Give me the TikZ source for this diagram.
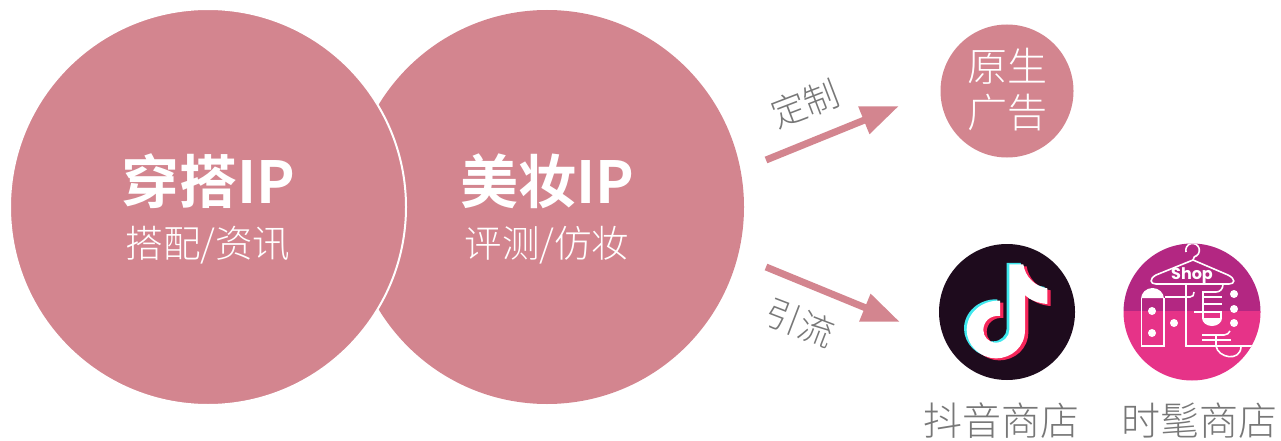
\documentclass[tikz,border=0pt]{standalone}
\usepackage{fontspec}
\usetikzlibrary{arrows.meta}
\setmainfont{Noto Sans CJK SC}
\newfontfamily\cjkbold{Noto Sans CJK SC Bold}
\newfontfamily\cjklight{Noto Sans CJK SC Light}
\newfontfamily\shopfont{Poppins}
\definecolor{rosepink}{HTML}{D3858F}
\definecolor{graytext}{HTML}{777777}
\definecolor{tiktokbg}{HTML}{1E0B1D}
\definecolor{tiktokcyan}{HTML}{3FE8EE}
\definecolor{tiktokred}{HTML}{F6265A}
\definecolor{shoptop}{HTML}{B32782}
\definecolor{shopbottom}{HTML}{E63388}
\newcommand{\notepath}{
  (268,103) -- (310,103) .. controls (315,140) and (345,170) .. (382,175) -- (382,222)
  .. controls (355,220) and (330,210) .. (315,195) -- (315,300)
  .. controls (315,350) and (275,385) .. (228,385)
  .. controls (180,385) and (140,345) .. (140,300)
  .. controls (140,250) and (185,210) .. (240,212) -- (240,258)
  .. controls (210,255) and (190,275) .. (190,300)
  .. controls (190,320) and (205,338) .. (228,338)
  .. controls (250,338) and (268,320) .. (268,300) -- cycle}
\tikzset{
  bigcircle/.style={circle,fill=rosepink,minimum size=394pt,inner sep=0pt},
  headtext/.style={text=white,font=\cjkbold\fontsize{58}{60}\selectfont,inner sep=0pt},
  subtext/.style={text=white,font=\cjklight\fontsize{37.5}{40}\selectfont,inner sep=0pt},
  greytext/.style={text=graytext,font=\cjklight\fontsize{39}{44}\selectfont,inner sep=0pt},
  edgelabel/.style={text=graytext,font=\cjklight\fontsize{35}{38}\selectfont,inner sep=0pt},
  flow/.style={draw=rosepink,line width=7pt,-{Triangle[length=38pt,width=28pt]}},
  shopline/.style={draw=white,line width=1.6pt,line cap=butt},
  shopdot/.style={fill=white}
}
\begin{document}
\begin{tikzpicture}[x=1pt,y=-1pt]
\useasboundingbox (0,0) rectangle (1281,441);
% Large circles
\node[bigcircle] (beauty) at (547,207) {};
\node[bigcircle,draw=white,line width=2pt,minimum size=396pt] (fashion) at (208,207) {};
\node[headtext] (fashionT) at (208,181) {穿搭IP};
\node[subtext] (fashionS) at (208,245) {搭配/资讯};
\node[headtext] (beautyT) at (547,181) {美妆IP};
\node[subtext] (beautyS) at (547,245) {评测/仿妆};
% Native ad circle
\node[circle,fill=rosepink,minimum size=133pt,inner sep=0pt] (native) at (1007,91) {};
\node[text=white,font=\cjklight\fontsize{40}{46}\selectfont,align=center,inner sep=0pt] (nativeT) at (1007,90) {原生\\广告};
% Arrows
\coordinate (a1s) at (766,160);
\coordinate (a1e) at (899,106);
\coordinate (a2s) at (766,267);
\coordinate (a2e) at (900,322);
\draw[flow] (a1s) -- (a1e);
\draw[flow] (a2s) -- (a2e);
\node[edgelabel,rotate=21] (lab1) at (805,104) {定制};
\node[edgelabel,rotate=-21] (lab2) at (800,323) {引流};
% TikTok icon
\fill[tiktokbg] (1007,312) circle (68);
\begin{scope}[shift={(920,230)},x=0.3333pt,y=-0.3333pt]
  \fill[tiktokcyan] [shift={(-8,-4)}] \notepath;
\end{scope}
\begin{scope}[shift={(920,230)},x=0.3333pt,y=-0.3333pt]
  \fill[tiktokred] [shift={(10,6)}] \notepath;
\end{scope}
\begin{scope}[shift={(920,230)},x=0.3333pt,y=-0.3333pt]
  \fill[white] \notepath;
\end{scope}
% Shop icon
\begin{scope}
  \clip (1192,312) circle (68.5);
  \fill[shoptop] (1120,240) rectangle (1265,311);
  \fill[shopbottom] (1120,311) rectangle (1265,385);
  % hook and hanger
  \draw[shopline] (1186,252) arc[start angle=165,end angle=435,radius=6.8] -- (1193,260);
  \draw[shopline] (1193,260) -- (1228,275) .. controls (1236,279) and (1235,284) .. (1229,284)
     -- (1156,284) .. controls (1150,284) and (1149,279) .. (1156,275) -- cycle;
  % left building
  \fill[white] (1141,298) -- (1141,299) arc[start angle=180,end angle=360,x radius=11.5,y radius=11] -- (1164,298) -- cycle;
  \draw[shopline] (1141.5,298) -- (1141.5,346) -- (1164,346) -- (1164,298);
  \fill[shopdot] (1152,311) circle (4);
  \fill[shopdot] (1152,333) circle (4);
  \fill[shopdot] (1174,323) circle (4);
  \fill[shopdot] (1234,294) circle (4);
  \fill[shopdot] (1234,309) circle (4);
  \fill[shopdot] (1234,323) circle (4);
  % long stroke
  \draw[shopline] (1186,284) -- (1186,346) -- (1255,346);
  \draw[shopline] (1165,297) -- (1190,297) .. controls (1193,297) and (1194,295) .. (1194,292);
  % upper hair glyph
  \draw[shopline] (1223,284) .. controls (1223,289) and (1220,292) .. (1216,292) -- (1203,292) -- (1203,318);
  \draw[shopline] (1203,297) -- (1222,297);
  \draw[shopline] (1203,304) -- (1222,304);
  \draw[shopline] (1194,312) -- (1222,312);
  \draw[shopline] (1221,312) -- (1221,319);
  \fill[white] (1202,318) arc[start angle=180,end angle=0,x radius=10,y radius=8] -- cycle;
  \draw[shopline] (1202,335) -- (1224,335) .. controls (1227,335) and (1229,333) .. (1230,331);
  \draw[shopline] (1202,340) -- (1231,340);
  \draw[shopline] (1216,335) -- (1216,346) .. controls (1218,358) and (1240,362) .. (1241,347);
\end{scope}
\node[text=white,font=\shopfont\bfseries\fontsize{16}{18}\selectfont,inner sep=0pt] (shopT) at (1192,276) {Shop};
% Bottom labels
\node[greytext] (tiktokL) at (1001,421) {抖音商店};
\node[greytext] (shopL) at (1199,421) {时髦商店};
\end{tikzpicture}
\end{document}
